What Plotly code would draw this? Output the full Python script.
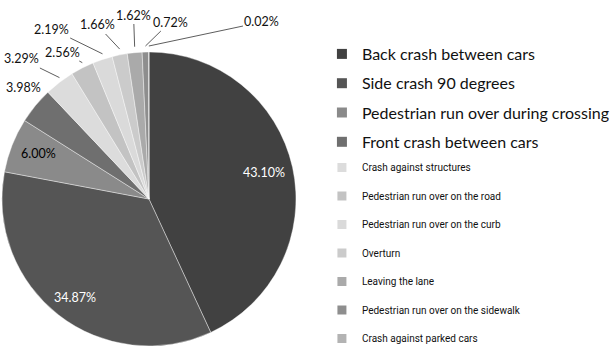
import math
import plotly.graph_objects as go

# ---- data ----
categories = [
    "Back crash between cars",
    "Side crash 90 degrees",
    "Pedestrian run over during crossing",
    "Front crash between cars",
    "Crash against structures",
    "Pedestrian run over on the road",
    "Pedestrian run over on the curb",
    "Overturn",
    "Leaving the lane",
    "Pedestrian run over on the sidewalk",
    "Crash against parked cars",
]
values = [43.10, 34.87, 6.00, 3.98, 3.29, 2.56, 2.19, 1.66, 1.62, 0.72, 0.02]
colors = ["#414141", "#555555", "#8a8a8a", "#6f6f6f", "#dcdcdc", "#c3c3c3",
          "#dadada", "#cbcbcb", "#aaaaaa", "#8e8e8e", "#b3b3b3"]

# ---- layout / style ----
W, H = 615, 361
CX, CY, R = 155, 199, 153          # pie centre & radius in pixels
FONT = "Lato"
SMALL_FONT = "Roboto"

# label placement: ("in", radial fraction, colour) or ("out", text_px_x, text_px_y, arrow?)
label_style = [
    ("in", 0.80, "white"),
    ("in", 0.82, "white"),
    ("in", 0.81, "black"),
    ("out", 24, 87, False),
    ("out", 24, 59, True),
    ("out", 66, 52, True),
    ("out", 56, 29, True),
    ("out", 102, 25, True),
    ("out", 139, 15, True),
    ("out", 176, 22, True),
    ("out", 268, 22, True),
]

fig = go.Figure()
fig.add_trace(go.Pie(
    labels=categories, values=values, sort=False, direction="clockwise",
    rotation=0, textinfo="none", hoverinfo="label+value",
    marker=dict(colors=colors, line=dict(color="#ffffff", width=0.4)),
    domain=dict(x=[(CX - R) / W, (CX + R) / W], y=[1 - (CY + R) / H, 1 - (CY - R) / H]),
    showlegend=False,
))

# legend entries (two groups with different type sizes)
for i, (name, col) in enumerate(zip(categories, colors)):
    big = i < 4
    fig.add_trace(go.Scatter(
        x=[None], y=[None], mode="markers", name=name,
        marker=dict(symbol="square", size=10 if big else 9, color=col),
        legend="legend" if big else "legend2", legendgroup=name, showlegend=True,
        hoverinfo="skip",
    ))

# percentage labels computed from the data
total = sum(values)
annotations = []
cum = 0.0
LBL = 12.5
for v, st in zip(values, label_style):
    mid = 2 * math.pi * (cum + v / 2) / total
    cum += v
    txt = f"{v:.2f}%"
    if st[0] == "in":
        px = CX + st[1] * R * math.sin(mid)
        py = CY - st[1] * R * math.cos(mid)
        annotations.append(dict(x=px / W, y=1 - py / H, xref="paper", yref="paper",
                                xanchor="center", yanchor="middle",
                                text=txt, showarrow=False,
                                font=dict(family=FONT, size=LBL, color=st[2])))
    else:
        tx, ty, arrow = st[1], st[2], st[3]
        if arrow:
            axp = CX + R * math.sin(mid)
            ayp = CY - R * math.cos(mid)
            annotations.append(dict(x=axp / W, y=1 - ayp / H, xref="paper", yref="paper",
                                    ax=tx - axp, ay=ty - ayp, text=txt, showarrow=True,
                                    arrowhead=0, arrowwidth=0.8, arrowcolor="#333333",
                                    standoff=0, startstandoff=0,
                                    font=dict(family=FONT, size=LBL, color="#111111")))
        else:
            annotations.append(dict(x=tx / W, y=1 - ty / H, xref="paper", yref="paper",
                                    xanchor="center", yanchor="middle",
                                    text=txt, showarrow=False,
                                    font=dict(family=FONT, size=LBL, color="#111111")))

fig.update_layout(
    width=W, height=H, margin=dict(l=0, r=0, t=0, b=0),
    paper_bgcolor="white", plot_bgcolor="white",
    xaxis=dict(visible=False), yaxis=dict(visible=False),
    annotations=annotations,
    legend=dict(x=335 / W, y=1 - 37 / H, xanchor="left", yanchor="top",
                font=dict(family=FONT, size=16, color="#111111"),
                tracegroupgap=5.5, bgcolor="rgba(0,0,0,0)"),
    legend2=dict(x=335 / W, y=1 - 153 / H, xanchor="left", yanchor="top",
                 font=dict(family=SMALL_FONT, size=10, color="#111111"),
                 tracegroupgap=9.5, bgcolor="rgba(0,0,0,0)"),
)

fig.write_html("out.html")
